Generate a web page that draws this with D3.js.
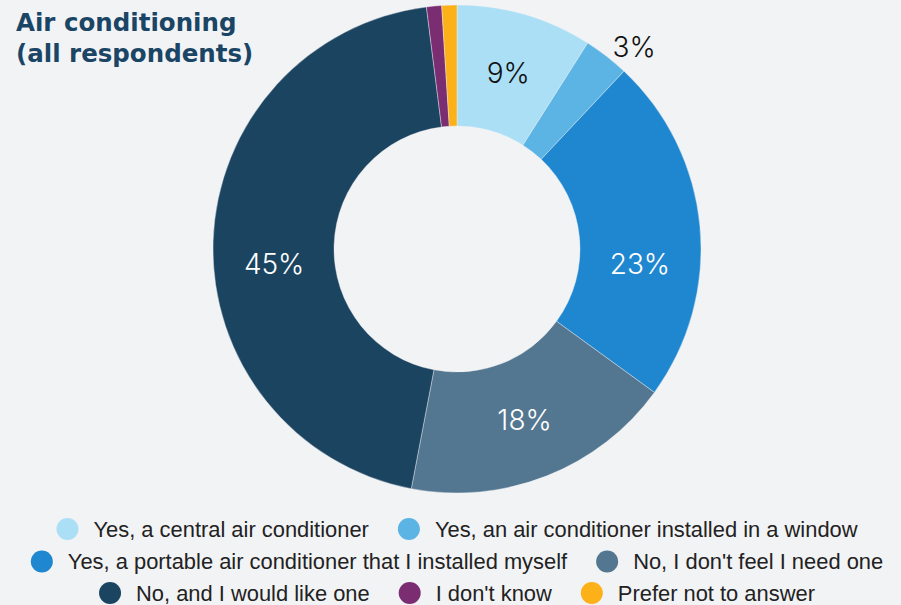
<!DOCTYPE html>
<html>
<head>
<meta charset="utf-8">
<script src="https://cdn.jsdelivr.net/npm/d3@7"></script>
<style>
  html, body { margin: 0; padding: 0; background: #f2f3f5; }
  svg { display: block; }
</style>
</head>
<body>
<svg id="chart" width="901" height="605"></svg>
<script>
// Survey answers, in drawing order (clockwise from 12 o'clock)
const categories = [
  "Yes, a central air conditioner",
  "Yes, an air conditioner installed in a window",
  "Yes, a portable air conditioner that I installed myself",
  "No, I don't feel I need one",
  "No, and I would like one",
  "I don't know",
  "Prefer not to answer"
];
const shares = [9, 3, 23, 18, 45, 1, 1];           // percent of respondents
const sliceColors = ["#abdff6", "#5bb4e4", "#1e87d0", "#547791", "#1b4461", "#7b2d72", "#fbb117"];
const titleLines = ["Air conditioning", "(all respondents)"];

const W = 901, H = 605;
const cx = 457, cy = 249;
const outerR = 244, innerR = 123;

const svg = d3.select("#chart");
svg.append("rect").attr("width", W).attr("height", H).attr("fill", "#f2f3f5");

// Title
const title = svg.append("text")
  .attr("x", 16).attr("y", 31)
  .attr("font-family", "'DejaVu Sans', Inter, sans-serif")
  .attr("font-weight", 700)
  .attr("font-size", 24.5)
  .attr("fill", "#1b4565");
titleLines.forEach((t, i) => {
  title.append("tspan").attr("x", 16).attr("dy", i === 0 ? 0 : 31).text(t);
});

// Donut
const color = d3.scaleOrdinal().domain(categories).range(sliceColors);
const pie = d3.pie().sort(null).value(d => d.value);
const data = categories.map((c, i) => ({ name: c, value: shares[i] }));
const arcs = pie(data);
const arc = d3.arc().innerRadius(innerR).outerRadius(outerR);

const g = svg.append("g").attr("transform", `translate(${cx},${cy})`);
g.selectAll("path.slice")
  .data(arcs)
  .join("path")
  .attr("class", "slice")
  .attr("d", arc)
  .attr("fill", d => color(d.data.name))
  .attr("stroke", "#f2f3f5")
  .attr("stroke-width", 0.4);

// Value labels: inside the ring for big slices, just outside for small ones
const angleNudge = { 2: 10, 4: -6.5, 1: 3.4 }; // degrees, keeps labels clear of neighbours
const labelled = arcs.map((d, i) => ({ d, i })).filter(o => o.d.data.value >= 3);
g.selectAll("text.val")
  .data(labelled)
  .join("text")
  .attr("class", "val")
  .each(function (o) {
    const inside = o.d.data.value >= 5;
    const mid = (o.d.startAngle + o.d.endAngle) / 2 + (angleNudge[o.i] || 0) * Math.PI / 180;
    const r = inside ? (innerR + outerR) / 2 : outerR + 25;
    d3.select(this)
      .attr("x", r * Math.sin(mid))
      .attr("y", -r * Math.cos(mid))
      .attr("fill", (o.i === 0 || !inside) ? "#111111" : "#ffffff");
  })
  .attr("text-anchor", "middle")
  .attr("dy", "0.36em")
  .attr("font-family", "Inter, 'Noto Sans', sans-serif")
  .attr("font-weight", 300)
  .attr("font-size", 28)
  .text(o => d3.format("d")(o.d.data.value) + "%");

// Legend, wrapped into rows centred under the donut
const legendFont = 21.9, dotR = 11, dotToText = 26, itemGap = 40, maxRow = 870;
const rowY = [529, 561.5, 593];
const legend = svg.append("g")
  .attr("font-family", "'Liberation Sans', Arial, sans-serif")
  .attr("font-size", legendFont)
  .attr("fill", "#222222");

// width of an item measured from the dot's left edge to the end of its text
const items = categories.map(c => {
  const t = legend.append("text").text(c).attr("dy", "0.35em");
  const w = t.node().getComputedTextLength();
  return { name: c, t, w, full: dotR + dotToText + w };
});

const rows = [];
let cur = [], curW = 0;
items.forEach(it => {
  const next = cur.length ? curW + (itemGap - dotR) + it.full : it.full;
  if (cur.length && next > maxRow) {
    rows.push({ items: cur, w: curW });
    cur = [it]; curW = it.full;
  } else {
    cur.push(it); curW = next;
  }
});
if (cur.length) rows.push({ items: cur, w: curW });

rows.forEach((row, ri) => {
  let x = cx - row.w / 2 + dotR; // first dot centre
  const y = rowY[ri] !== undefined ? rowY[ri] : rowY[rowY.length - 1] + (ri - rowY.length + 1) * 32;
  row.items.forEach(it => {
    legend.append("circle")
      .attr("cx", x).attr("cy", y).attr("r", dotR)
      .attr("fill", color(it.name));
    it.t.attr("x", x + dotToText).attr("y", y);
    x += dotToText + it.w + itemGap;
  });
});
</script>
</body>
</html>
